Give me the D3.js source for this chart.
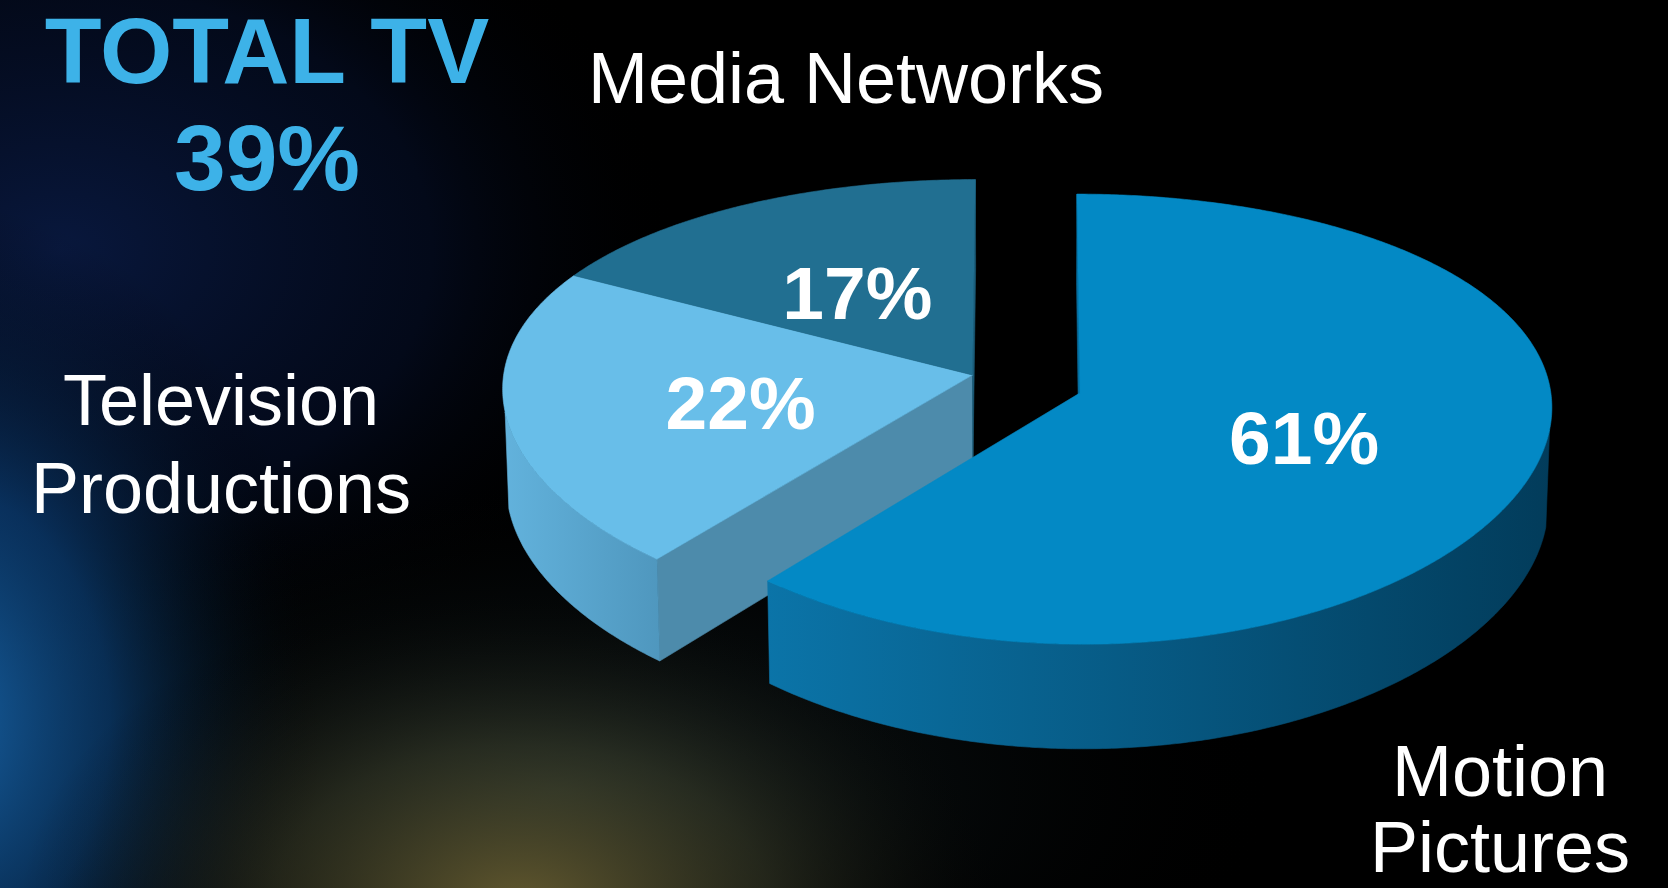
<!DOCTYPE html>
<html>
<head>
<meta charset="utf-8">
<script src="https://cdn.jsdelivr.net/npm/d3@7"></script>
<style>
  html, body { margin: 0; padding: 0; background: #000; overflow: hidden; }
  svg { display: block; }
  text { font-family: "Liberation Sans", Arial, Helvetica, sans-serif; }
</style>
</head>
<body>
<svg id="chart" width="1668" height="888"></svg>
<script>
// ---------------- data ----------------
const categories = ["Motion Pictures", "Television Productions", "Media Networks"];
const shares = [61, 22, 17];
const pieceOf = [0, 1, 1];            // slices that stay joined together form one piece
const categoryLines = [["Motion", "Pictures"], ["Television", "Productions"], ["Media Networks"]];
const headlineLines = ["TOTAL TV", "39%"];

// ---------------- styles ----------------
const topColors   = ["#0389c5", "#68bee9", "#216f91"];
const sideLight   = ["#0b74a8", "#62b2dc", "#1d6483"];
const sideDark    = ["#023c5b", "#4f97be", "#174f69"];
const cutColors   = ["#066c9c", "#4d8bab", "#1a5a77"];

const W = 1668, H = 888;
const svg = d3.select("#chart");
const defs = svg.append("defs");

// ---------------- background ----------------
svg.append("rect").attr("width", W).attr("height", H).attr("fill", "#000");
function radial(id, stops) {
  const g = defs.append("radialGradient").attr("id", id);
  stops.forEach(s => g.append("stop").attr("offset", s[0]).attr("stop-color", s[1]).attr("stop-opacity", s[2]));
  return g;
}
radial("bgNavy", [[0, "#0a1c48", 0.85], [0.6, "#061232", 0.5], [1, "#000", 0]]);
radial("bgBlue", [[0, "#1a6cb4", 0.95], [0.45, "#0c4580", 0.65], [1, "#000", 0]]);
radial("bgGold", [[0, "#6e6232", 0.9], [0.5, "#3a3a24", 0.55], [1, "#000", 0]]);
radial("bgTeal", [[0, "#16262a", 0.95], [1, "#000", 0]]);
svg.append("ellipse").attr("cx", 60).attr("cy", 250).attr("rx", 620).attr("ry", 440).attr("fill", "url(#bgNavy)");
svg.append("ellipse").attr("cx", 560).attr("cy", 790).attr("rx", 720).attr("ry", 320).attr("fill", "url(#bgTeal)");
svg.append("ellipse").attr("cx", -70).attr("cy", 720).attr("rx", 400).attr("ry", 520).attr("fill", "url(#bgBlue)");
svg.append("ellipse").attr("cx", 520).attr("cy", 910).attr("rx", 500).attr("ry", 330).attr("fill", "url(#bgGold)");

// ---------------- 3D projection ----------------
const R = 470, thick = 110, tilt = Math.asin(0.468), dist = 3600;
const cx0 = 1026, cy0 = 384, explode = 57;
const sinT = Math.sin(tilt), cosT = Math.cos(tilt);
function proj(X, Y, Z) {
  const v = -Z * sinT + Y * cosT;
  const w = Z * cosT + Y * sinT;
  const s = dist / (dist - w);
  return [cx0 + X * Math.sqrt(s), cy0 - v * s];
}
const cam = [0, dist * sinT, dist * cosT];

const arcs = d3.pie().sort(null).value(d => d)(shares);

// pieces
const pieceIds = Array.from(new Set(pieceOf));
const pieces = pieceIds.map(p => {
  const idx = arcs.map((a, i) => i).filter(i => pieceOf[i] === p);
  const a0 = d3.min(idx, i => arcs[i].startAngle), a1 = d3.max(idx, i => arcs[i].endAngle);
  const mid = (a0 + a1) / 2;
  return { id: p, idx, a0, a1, ox: explode * Math.sin(mid), oz: -explode * Math.cos(mid) };
});
pieces.sort((a, b) => a.oz - b.oz);

const rim = (pc, a, y, r = R) => proj(pc.ox + r * Math.sin(a), y, pc.oz - r * Math.cos(a));
const ctr = (pc, y) => proj(pc.ox, y, pc.oz);
const line = pts => "M" + pts.map(p => p[0].toFixed(2) + "," + p[1].toFixed(2)).join("L") + "Z";
const step = Math.PI / 360;

function faces(n, P) {
  return n[0] * (cam[0] - P[0]) + n[1] * (cam[1] - P[1]) + n[2] * (cam[2] - P[2]) > 0;
}

const g3d = svg.append("g");
let gradN = 0;
pieces.forEach(pc => {
  const g = g3d.append("g");
  // radial cut faces on the piece boundaries
  [[pc.a0, -1, pc.idx[0]], [pc.a1, 1, pc.idx[pc.idx.length - 1]]].forEach(([a, sgn, si]) => {
    const na = a + sgn * Math.PI / 2;
    const n = [Math.sin(na), 0, -Math.cos(na)];
    const P = [pc.ox + 0.5 * R * Math.sin(a), -thick / 2, pc.oz - 0.5 * R * Math.cos(a)];
    if (!faces(n, P)) return;
    g.append("path")
      .attr("d", line([ctr(pc, 0), rim(pc, a, 0), rim(pc, a, -thick), ctr(pc, -thick)]))
      .attr("fill", cutColors[si]).attr("stroke", cutColors[si]).attr("stroke-width", 0.6);
  });
  // outer curved sides
  pc.idx.forEach(i => {
    const a0 = arcs[i].startAngle, a1 = arcs[i].endAngle;
    const n = Math.max(2, Math.ceil((a1 - a0) / step));
    const runs = []; let cur = null;
    for (let k = 0; k < n; k++) {
      const s0 = a0 + (a1 - a0) * k / n, s1 = a0 + (a1 - a0) * (k + 1) / n, m = (s0 + s1) / 2;
      const nrm = [Math.sin(m), 0, -Math.cos(m)];
      const P = [pc.ox + R * Math.sin(m), -thick / 2, pc.oz - R * Math.cos(m)];
      if (faces(nrm, P)) {
        if (!cur) { cur = [s0, s1]; runs.push(cur); } else cur[1] = s1;
      } else cur = null;
    }
    runs.forEach(([s0, s1]) => {
      const m = Math.max(2, Math.ceil((s1 - s0) / step));
      const top = d3.range(m + 1).map(k => rim(pc, s0 + (s1 - s0) * k / m, 0));
      const bot = d3.range(m + 1).map(k => rim(pc, s0 + (s1 - s0) * k / m, -thick)).reverse();
      const pts = top.concat(bot);
      const xs = d3.extent(pts, p => p[0]);
      const id = "side" + (gradN++);
      const lg = defs.append("linearGradient").attr("id", id).attr("gradientUnits", "userSpaceOnUse")
        .attr("x1", xs[0]).attr("x2", xs[1]).attr("y1", 0).attr("y2", 0);
      lg.append("stop").attr("offset", 0).attr("stop-color", sideLight[i]);
      lg.append("stop").attr("offset", 1).attr("stop-color", sideDark[i]);
      g.append("path").attr("d", line(pts)).attr("fill", `url(#${id})`)
        .attr("stroke", `url(#${id})`).attr("stroke-width", 0.6);
    });
  });
  // top faces
  pc.idx.forEach(i => {
    const a0 = arcs[i].startAngle, a1 = arcs[i].endAngle;
    const m = Math.max(2, Math.ceil((a1 - a0) / step));
    const pts = [ctr(pc, 0)].concat(d3.range(m + 1).map(k => rim(pc, a0 + (a1 - a0) * k / m, 0)));
    g.append("path").attr("d", line(pts)).attr("fill", topColors[i])
      .attr("stroke", topColors[i]).attr("stroke-width", 0.6);
  });
  // percentage labels
  pc.idx.forEach(i => {
    const mid = (arcs[i].startAngle + arcs[i].endAngle) / 2;
    const p = rim(pc, mid, 0, 0.5 * R);
    g.append("text").attr("x", p[0]).attr("y", p[1]).attr("dy", "0.44em")
      .attr("text-anchor", "middle").attr("font-size", 75).attr("font-weight", "bold")
      .attr("fill", "#fff").text(shares[i] + "%");
  });
});

// ---------------- category labels ----------------
const labelPos = [[1500, 796], [221, 425], [846, 103]];
const lineGap = [76, 88, 0];
categoryLines.forEach((lines, i) => {
  const t = svg.append("text").attr("text-anchor", "middle").attr("font-size", 72).attr("fill", "#fff");
  lines.forEach((l, k) => t.append("tspan").attr("x", labelPos[i][0])
    .attr("y", labelPos[i][1] + k * lineGap[i]).text(l));
});

// ---------------- headline ----------------
const head = svg.append("text").attr("text-anchor", "middle").attr("font-size", 93)
  .attr("font-weight", "bold").attr("fill", "#3db2e8");
headlineLines.forEach((l, k) => head.append("tspan").attr("x", 267).attr("y", 83 + k * 107).text(l));
</script>
</body>
</html>
